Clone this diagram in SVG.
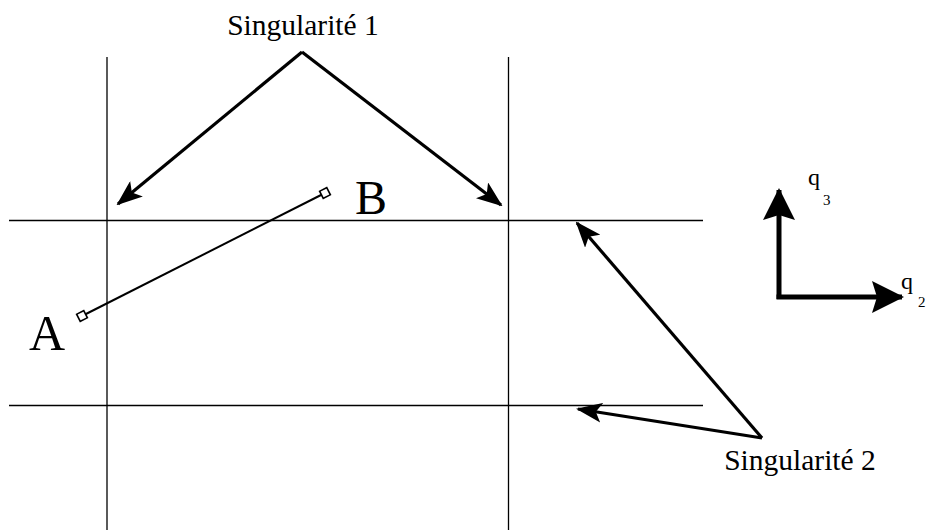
<svg xmlns="http://www.w3.org/2000/svg" width="930" height="530" viewBox="0 0 930 530">
<style>
.grid{stroke:#000;stroke-width:1.3;fill:none}
.arr{stroke:#000;stroke-width:3.2;fill:none}
.ax{stroke:#000;stroke-width:5;fill:none}
.seg{stroke:#000;stroke-width:2;fill:none}
</style>
<defs>
<marker id="ah" viewBox="0 0 26 20" refX="24" refY="10" markerWidth="26" markerHeight="20" markerUnits="userSpaceOnUse" orient="auto">
<path d="M0,0 L26,10 L0,20 L6,10 Z" fill="#000"/>
</marker>
<marker id="ahq" viewBox="0 0 32 32" refX="30" refY="16" markerWidth="32" markerHeight="32" markerUnits="userSpaceOnUse" orient="auto">
<path d="M0,0 L32,16 L0,32 L5,16 Z" fill="#000"/>
</marker>
</defs>
<g id="grid">
<line class="grid" x1="107" y1="57" x2="107" y2="530"/>
<line class="grid" x1="508.5" y1="57" x2="508.5" y2="530"/>
<line class="grid" x1="9" y1="220.5" x2="703" y2="220.5"/>
<line class="grid" x1="9" y1="405.5" x2="703" y2="405.5"/>
</g>
<g id="segmentAB">
<line class="seg" x1="82" y1="316" x2="325" y2="193"/>
<rect x="-4" y="-4" width="8" height="8" fill="#fff" stroke="#000" stroke-width="1.6" transform="translate(82,316) rotate(-27)"/>
<rect x="-4" y="-4" width="8" height="8" fill="#fff" stroke="#000" stroke-width="1.6" transform="translate(325,193) rotate(-27)"/>
</g>
<g id="labelA"><text x="29" y="350" font-size="50" font-family="'Liberation Serif','Times New Roman','DejaVu Serif',serif">A</text></g>
<g id="labelB"><text x="355" y="214" font-size="48" font-family="'Liberation Serif','Times New Roman','DejaVu Serif',serif">B</text></g>
<g id="sing1">
<text x="303" y="35" font-size="29.5" text-anchor="middle" font-family="'Liberation Serif','Times New Roman','DejaVu Serif',serif">Singularité 1</text>
</g>
<g id="sing2">
<text x="800" y="470" font-size="29.5" text-anchor="middle" font-family="'Liberation Serif','Times New Roman','DejaVu Serif',serif">Singularité 2</text>
</g>
<g id="axes" font-family="'Liberation Serif','Times New Roman','DejaVu Serif',serif">
<text x="808" y="185" font-size="24">q</text>
<text x="823" y="205" font-size="15">3</text>
<text x="901" y="289" font-size="24">q</text>
<text x="918" y="307" font-size="15">2</text>
</g>
<g id="connectors">
<line class="arr" x1="302" y1="52" x2="118" y2="204" marker-end="url(#ah)"/>
<line class="arr" x1="302" y1="52" x2="501" y2="205" marker-end="url(#ah)"/>
<line class="arr" x1="762" y1="438" x2="577" y2="223" marker-end="url(#ah)"/>
<line class="arr" x1="762" y1="438" x2="578" y2="409" marker-end="url(#ah)"/>
<line class="ax" x1="779" y1="299" x2="779" y2="190" marker-end="url(#ahq)"/>
<line class="ax" x1="776.5" y1="297" x2="902" y2="297" marker-end="url(#ahq)"/>
</g>
</svg>
